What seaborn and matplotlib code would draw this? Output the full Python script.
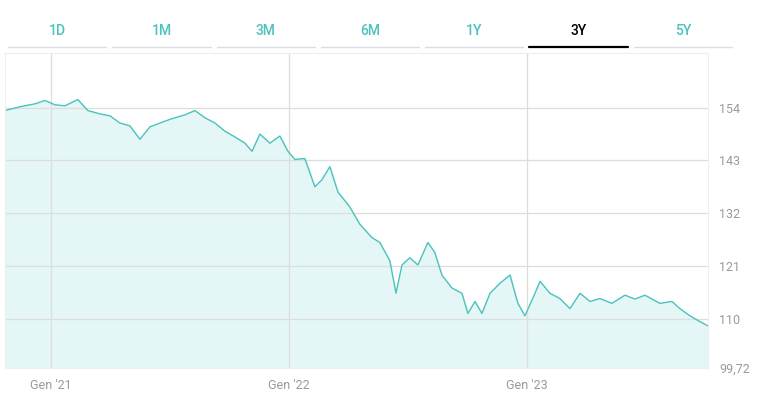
import numpy as np
import pandas as pd
import matplotlib
matplotlib.use("Agg")
import matplotlib.pyplot as plt
import seaborn as sns

# decimal year / price
years = [2020.807, 2020.870, 2020.933, 2020.975, 2021.017, 2021.059, 2021.113, 2021.155,
         2021.206, 2021.248, 2021.290, 2021.332, 2021.374, 2021.416, 2021.458, 2021.508,
         2021.563, 2021.605, 2021.647, 2021.689, 2021.731, 2021.773, 2021.815, 2021.845,
         2021.878, 2021.920, 2021.962, 2021.996, 2022.025, 2022.067, 2022.109, 2022.139,
         2022.172, 2022.206, 2022.256, 2022.298, 2022.349, 2022.382, 2022.424, 2022.450,
         2022.475, 2022.508, 2022.542, 2022.584, 2022.613, 2022.643, 2022.685, 2022.727,
         2022.752, 2022.782, 2022.811, 2022.845, 2022.887, 2022.929, 2022.962, 2022.992,
         2023.034, 2023.055, 2023.097, 2023.139, 2023.181, 2023.223, 2023.265, 2023.307,
         2023.357, 2023.412, 2023.454, 2023.496, 2023.559, 2023.609, 2023.643, 2023.685,
         2023.727, 2023.761]
prices = [153.4, 154.2, 154.8, 155.5, 154.6, 154.4, 155.7, 153.4,
          152.7, 152.3, 150.8, 150.2, 147.4, 150.0, 150.8, 151.7,
          152.5, 153.4, 151.9, 150.8, 149.1, 147.9, 146.6, 144.9,
          148.5, 146.6, 148.1, 144.9, 143.2, 143.4, 137.5, 139.0,
          141.7, 136.4, 133.3, 129.7, 126.9, 125.9, 122.1, 115.3,
          121.2, 122.7, 121.2, 125.9, 123.8, 119.1, 116.4, 115.3,
          111.1, 113.6, 111.1, 115.3, 117.4, 119.1, 113.2, 110.6,
          115.3, 117.8, 115.3, 114.2, 112.1, 115.3, 113.6, 114.2,
          113.2, 114.9, 114.1, 114.9, 113.2, 113.6, 112.1, 110.6,
          109.4, 108.5]
ytick_vals = [99.72, 110, 121, 132, 143, 154]
ytick_labels = ["99,72", "110", "121", "132", "143", "154"]
xtick_vals = [2021, 2022, 2023]
xtick_labels = ["Gen '21", "Gen '22", "Gen '23"]
tabs = ["1D", "1M", "3M", "6M", "1Y", "3Y", "5Y"]
active_tab = "3Y"

df = pd.DataFrame({"year": years, "price": prices})

sns.set_style("white")
plt.rcParams["font.family"] = ["Roboto", "DejaVu Sans"]

teal = "#4cc3bd"
fig = plt.figure(figsize=(7.68, 4.2), dpi=100)
ax = fig.add_axes([5 / 768, 1 - 368 / 420, 703 / 768, 315 / 420])

sns.lineplot(data=df, x="year", y="price", ax=ax, color=teal, linewidth=1.0)
ax.fill_between(df["year"], df["price"], 99.72, color="#e4f6f6", zorder=0)

ax.set_xlim(2020.807, 2023.761)
ax.set_ylim(99.72, 165.4)
ax.set_xlabel("")
ax.set_ylabel("")
ax.yaxis.tick_right()
ax.set_yticks(ytick_vals)
ax.set_yticklabels(ytick_labels)
ax.set_xticks(xtick_vals)
ax.set_xticklabels(xtick_labels)
ax.tick_params(axis="both", length=0, labelsize=9, colors="#9a9a9a")
ax.tick_params(axis="y", pad=8)
ax.tick_params(axis="x", pad=8)
for v in ytick_vals[1:]:
    ax.axhline(v, color="#dddddd", linewidth=0.9, zorder=0.5)
for v in xtick_vals:
    ax.axvline(v, color="#dddddd", linewidth=0.9, zorder=0.5)
for s in ax.spines.values():
    s.set_color("#eeeeee")
    s.set_linewidth(0.8)

# period tabs
tab_w = 730 / 7
for i, t in enumerate(tabs):
    x0 = 5 + i * tab_w
    xc = (x0 + tab_w / 2) / 768
    active = t == active_tab
    fig.text(xc, 1 - 31 / 420, t, ha="center", va="center", fontsize=10,
             fontweight="medium", color="black" if active else teal)
    fig.add_artist(plt.Line2D([(x0 + 3) / 768, (x0 + tab_w - 3) / 768],
                              [1 - 47 / 420] * 2,
                              color="black" if active else "#d8dde6",
                              linewidth=1.6 if active else 1.0))

fig.savefig("out.png", dpi=100)
